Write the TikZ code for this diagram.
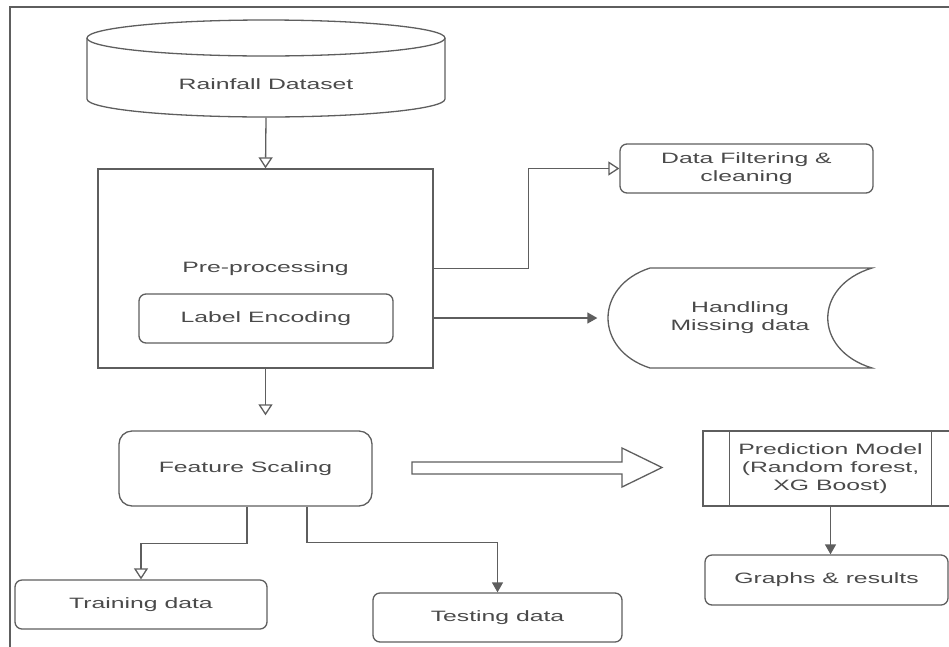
\documentclass[tikz,border=0pt]{standalone}
\usepackage{fontspec}
\setmainfont{Liberation Sans}[FakeStretch=1.65]
\usetikzlibrary{arrows.meta,positioning,shapes}
\definecolor{linegray}{HTML}{5E5E5E}
\definecolor{textgray}{HTML}{4A4A4A}

\begin{document}
\begin{tikzpicture}[x=1pt,y=-1pt,line width=1.3pt,color=linegray,text=textgray,
		font=\fontsize{15}{18}\selectfont,
		box/.style={rectangle,draw,inner sep=0pt,align=center},
		rbox/.style={box,rounded corners=7pt},
		dbbox/.style={rectangle,inner sep=0pt,minimum width=358,minimum height=97},
		openhead/.style={-{Triangle[open,length=11pt,width=14pt]}},
		fullhead/.style={-{Triangle[length=10pt,width=11pt]}}]
		\useasboundingbox (0,0) rectangle (949,646);
		\draw (10,700) -- (10,7) -- (990,7);

		\node[dbbox] (dataset) at (266,68.5) [label={[yshift=-16pt]center:Rainfall Dataset}] {};
		\draw (87,38) -- (87,99) arc[start angle=180,end angle=0,x radius=179,y radius=18] -- (445,38);
		\draw (266,38) ellipse [x radius=179,y radius=18];

		\node[box,minimum width=335,minimum height=199] (prep) at (265.5,268.5) {Pre-processing};
		\node[rbox,minimum width=254,minimum height=49] (labelenc) at (266,318.5) {Label Encoding};
		\node[rbox,minimum width=253,minimum height=49] (filter) at (746.5,168.5) {Data Filtering \&\\cleaning};
		\node[inner sep=0pt,align=center,minimum width=264,minimum height=100] (missing) at (740,318) {Handling\\Missing data};
		\draw (650,268) -- (872,268) .. controls (813,286) and (813,350) .. (872,368) -- (650,368)
			.. controls (594,350) and (594,286) .. (650,268) -- cycle;

		\node[rbox,rounded corners=13pt,minimum width=253,minimum height=75] (feature) at (245.5,468.5) {Feature Scaling};
		\node[rbox,minimum width=252,minimum height=49] (training) at (141,604.5) {Training data};
		\node[rbox,minimum width=249,minimum height=49] (testing) at (497.5,617.5) {Testing data};

		\draw (412,462) -- (622,462) -- (622,448) -- (662,467.5) -- (622,487) -- (622,474) -- (412,474) -- cycle;

		\node[box,minimum width=255,minimum height=75] (model) at (830.5,468.5) {Prediction Model\\(Random forest,\\XG Boost)};
		\draw ([xshift=27pt]model.north west) -- ([xshift=27pt]model.south west);
		\draw ([xshift=-27pt]model.north east) -- ([xshift=-27pt]model.south east);
		\node[rbox,minimum width=243,minimum height=50] (graphs) at (826.5,580) {Graphs \& results};

		\draw[openhead] (dataset.south) -- (prep.north);
		\draw[openhead] (prep.east) -- ++(95,0) |- (filter.west);
		\draw[fullhead,shorten >=10pt] (prep.east |- missing.west) -- (missing.west);
		\draw[openhead,shorten >=15pt] (prep.south) -- (prep.south |- feature.north);
		\draw[openhead] ([xshift=1.5pt]feature.south) -- ++(0,37) -| (training.north);
		\draw[fullhead] ([xshift=61.5pt]feature.south) -- ++(0,36) -| (testing.north);
		\draw[fullhead] (model.south) -- (model.south |- graphs.north);
\end{tikzpicture}
\end{document}
